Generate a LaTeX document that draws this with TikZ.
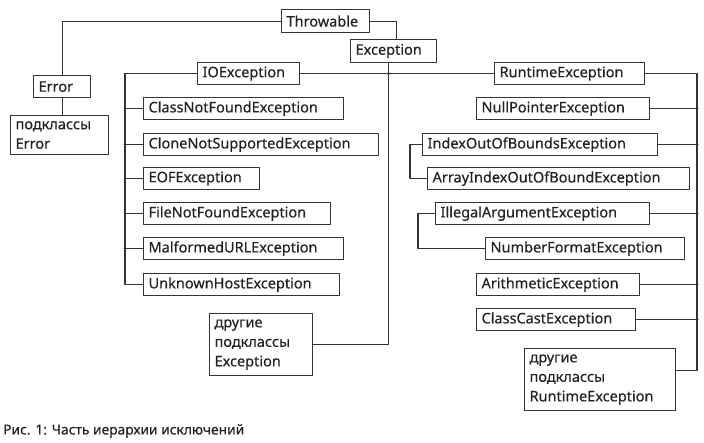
\documentclass[tikz,border=0pt]{standalone}
\usepackage{fontspec}
\setmainfont{Noto Sans}[FakeBold=0.4]
\definecolor{lin}{HTML}{333333}
\definecolor{txt}{HTML}{222222}
\tikzset{
  cls/.style={draw=lin, line width=1.2pt, anchor=north west, inner xsep=5pt, inner ysep=2pt,
    text width=#1pt, align=flush left, minimum height=22pt, text=txt},
  wire/.style={draw=lin, line width=1.2pt},
  dot/.style={fill=lin}
}
\begin{document}
\begin{tikzpicture}[x=1pt, y=-1pt, font=\fontsize{14.5}{19.5}\selectfont, line join=round]
\useasboundingbox (0,0) rectangle (704,442);
% top of the hierarchy
\node[cls=78, minimum height=23pt] (throwable) at (281,9) {Throwable};
\node[cls=76, minimum height=23pt] (exception) at (350,39) {Exception};
\node[cls=47] (error) at (33,75) {Error};
\node[cls=88, minimum height=39pt] (errsub) at (10,115) {подклассы\\Error};
\node[cls=92] (ioexc) at (197,62) {IOException};
\node[cls=140] (rtexc) at (494,62) {RuntimeException};
\node[cls=93, minimum height=62pt] (excsub) at (209,313) {другие\\подклассы\\Exception};
\node[cls=141, minimum height=62pt] (rtsub) at (524,348) {другие\\подклассы\\RuntimeException};
% subclasses of IOException and RuntimeException
\foreach \n/\x/\y/\w/\t in {cnf/143/97/190/ClassNotFoundException,
    cns/143/133/225/CloneNotSupportedException, eof/143/167/106/EOFException,
    fnf/143/202/177/FileNotFoundException, murl/143/237/190/MalformedURLException,
    uhe/143/273/186/UnknownHostException, npe/476/97/163/NullPointerException,
    ioob/422/133/225/IndexOutOfBoundsException, aioob/427/167/252/ArrayIndexOutOfBoundException,
    iae/435/202/204/IllegalArgumentException, nfe/485/237/189/NumberFormatException,
    arith/476/273/153/ArithmeticException, ccast/476/308/149/ClassCastException}
  {\node[cls=\w] (\n) at (\x,\y) {\t};}
\coordinate (iobus) at (125,0);
\coordinate (rtbus) at (697,0);
\coordinate (excbus) at ([xshift=-5pt]exception.south);
\coordinate (rtend) at ([yshift=9pt]rtsub.east);
% connectors
\draw[wire] (throwable.west) -| (error.north);
\draw[wire] (error.south) -- (error.south |- errsub.north);
\draw[wire] (throwable.east) -| ([xshift=3pt]exception.north);
\draw[wire] (ioexc.east) -- (rtexc.west);
\draw[wire] (excbus) |- (excsub.east);
\fill[dot] (excbus |- ioexc.east) circle(1.6);
\draw[wire] (ioexc.west) -| (iobus |- uhe.west) -- (uhe.west);
\foreach \n in {cnf,cns,eof,fnf,murl}
  {\draw[wire] (iobus |- \n.west) -- (\n.west); \fill[dot] (iobus |- \n.west) circle(1.6);}
\draw[wire] (rtexc.east) -| (rtbus |- rtend) -- (rtend);
\foreach \n in {npe,ioob,iae,arith,ccast}
  {\draw[wire] (\n.east) -- (rtbus |- \n.east); \fill[dot] (rtbus |- \n.east) circle(1.6);}
\draw[wire] (ioob.west) -- ++(-12,0) |- (aioob.west);
\draw[wire] (iae.west) -- ++(-17,0) |- (nfe.west);
% caption
\node[anchor=west, inner sep=0pt, text=txt, font=\fontsize{13.8}{16}\selectfont] (caption) at (3,431) {Рис. 1: Часть иерархии исключений};
\end{tikzpicture}
\end{document}
